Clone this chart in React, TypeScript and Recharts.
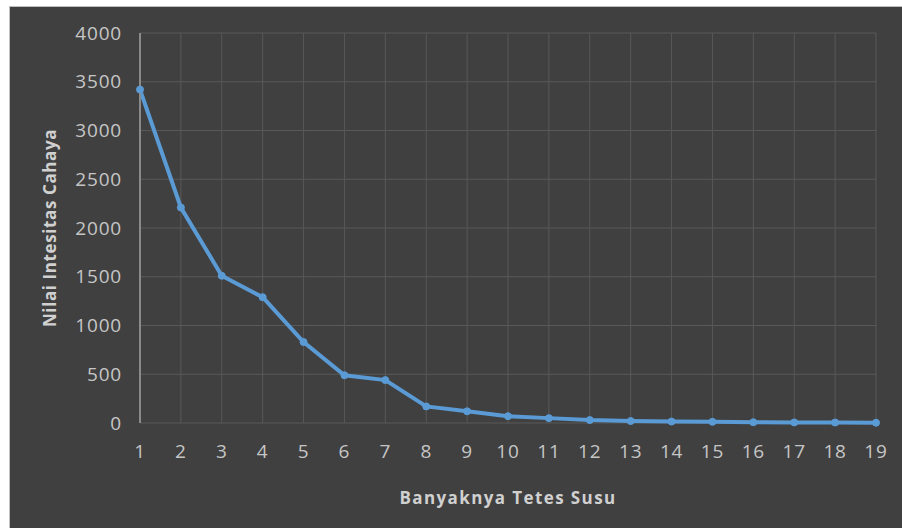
import { CartesianGrid, Line, LineChart, XAxis, YAxis } from "recharts";

const TETES = ["1", "2", "3", "4", "5", "6", "7", "8", "9", "10", "11", "12", "13", "14", "15", "16", "17", "18", "19"];
const INTENSITAS = [3420, 2210, 1510, 1290, 830, 490, 440, 170, 120, 70, 50, 30, 20, 15, 12, 8, 6, 5, 3];
const Y_TICKS = [0, 500, 1000, 1500, 2000, 2500, 3000, 3500, 4000];

const data = TETES.map((t, i) => ({ tetes: t, nilai: INTENSITAS[i] }));

const FONT = "'Open Sans', sans-serif";
const TICK = { fill: "#c6c6c6", fontSize: 19, fontFamily: FONT, letterSpacing: 0.8 };

export default function App() {
  return (
    <div
      style={{
        position: "absolute",
        left: 9,
        top: 6,
        width: 892,
        height: 521,
        background: "#404040",
        border: "1px solid #bfbfbf",
        borderRight: "none",
        borderBottom: "none",
      }}
    >
      <LineChart width={892} height={521} data={data} margin={{ top: 26, right: 26, left: 0, bottom: 0 }}>
        <CartesianGrid stroke="#585858" strokeWidth={1} />
        <XAxis
          dataKey="tetes"
          height={105}
          axisLine={false}
          tickLine={false}
          tick={TICK}
          tickMargin={16}
          interval={0}
          label={{
            value: "Banyaknya Tetes Susu",
            position: "insideBottom",
            offset: 24,
            fill: "#d0d0d0",
            fontSize: 17,
            fontWeight: 700,
            fontFamily: FONT,
            letterSpacing: 1.4,
          }}
        />
        <YAxis
          width={130}
          domain={[0, 4000]}
          ticks={Y_TICKS}
          interval={0}
          axisLine={{ stroke: "#8a8a8a", strokeWidth: 2 }}
          tickLine={false}
          tick={TICK}
          tickMargin={12}
          label={{
            value: "Nilai Intesitas Cahaya",
            angle: -90,
            position: "insideLeft",
            offset: 40,
            fill: "#d0d0d0",
            fontSize: 17,
            fontWeight: 700,
            fontFamily: FONT,
            letterSpacing: 0.6,
            style: { textAnchor: "middle" },
          }}
        />
        <Line
          type="linear"
          dataKey="nilai"
          stroke="#5b9bd5"
          strokeWidth={4}
          dot={{ r: 3.5, fill: "#5b9bd5", stroke: "#5b9bd5", strokeWidth: 1 }}
          activeDot={false}
          isAnimationActive={false}
        />
      </LineChart>
    </div>
  );
}
